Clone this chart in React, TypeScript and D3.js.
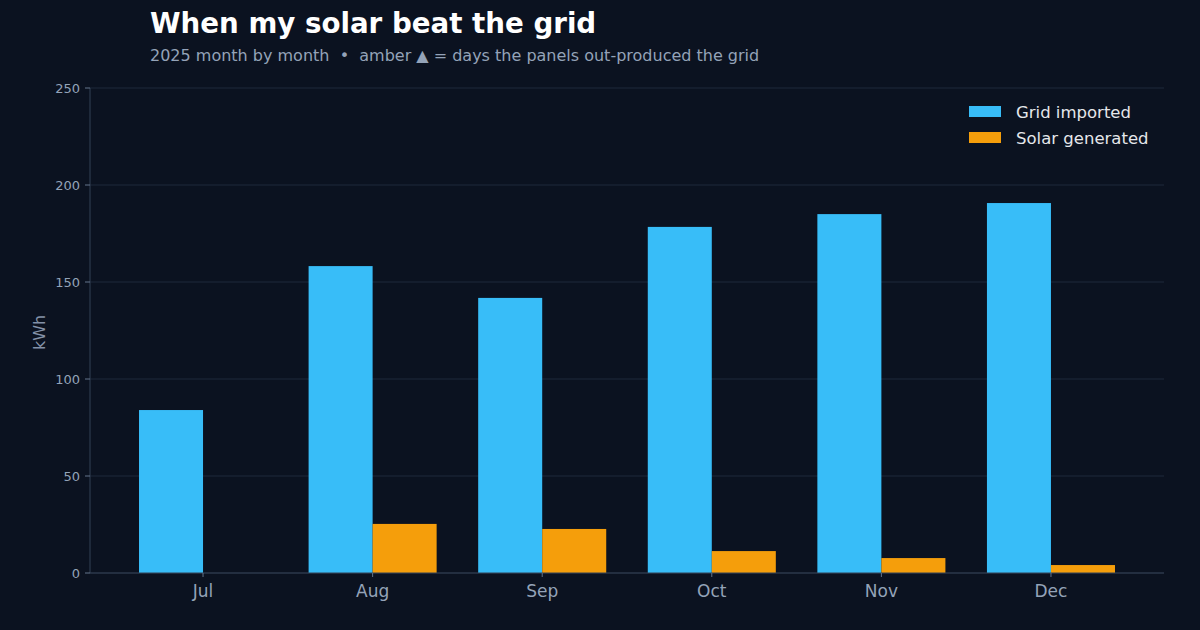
import React from "react"
import * as d3 from "d3"

const months = ["Jul", "Aug", "Sep", "Oct", "Nov", "Dec"]
const gridImported = [84, 158.2, 141.8, 178.4, 185, 190.7]
const solarGenerated = [0, 25.3, 22.7, 11.3, 7.7, 4.1]
const yTicks = [0, 50, 100, 150, 200, 250]

const series = [
  { key: "grid", label: "Grid imported", color: "#38bdf8", values: gridImported },
  { key: "solar", label: "Solar generated", color: "#f59e0b", values: solarGenerated },
]

const W = 1200
const H = 630
const m = { left: 90, right: 1164, top: 88, bottom: 573 }
const font = "DejaVu Sans, sans-serif"

export default function App() {
  const x = d3
    .scaleBand()
    .domain(months)
    .range([m.left, m.right])
    .paddingInner(0.245)
    .paddingOuter(0.289)
  const xs = d3
    .scaleBand()
    .domain(series.map(s => s.key))
    .range([0, x.bandwidth()])
  const y = d3.scaleLinear().domain([0, 250]).range([m.bottom, m.top])

  return (
    <svg
      width={W}
      height={H}
      style={{ position: "absolute", left: 0, top: 0, display: "block" }}
      fontFamily={font}
    >
      <rect width={W} height={H} fill="#0b1220" />

      {/* Title */}
      <text x={150} y={33} fontSize={27.7} fontWeight="bold" fill="#ffffff">
        When my solar beat the grid
      </text>
      <text x={150} y={61} fontSize={16} fill="#94a3b8" style={{ whiteSpace: "pre" }}>
        {"2025 month by month  •  amber ▲ = days the panels out-produced the grid"}
      </text>

      {/* gridlines */}
      {yTicks.map(t => (
        <line
          key={t}
          x1={m.left}
          x2={m.right}
          y1={y(t)}
          y2={y(t)}
          stroke="#1e293b"
          strokeWidth={1}
        />
      ))}

      {/* bars */}
      {months.map((mo, i) => (
        <g key={mo} transform={`translate(${x(mo)},0)`}>
          {series.map(s => (
            <rect
              key={s.key}
              x={xs(s.key)}
              y={y(s.values[i])}
              width={xs.bandwidth()}
              height={y(0) - y(s.values[i])}
              fill={s.color}
            />
          ))}
        </g>
      ))}

      {/* axes */}
      <line x1={m.left} x2={m.left} y1={m.top} y2={m.bottom} stroke="#334155" />
      <line x1={m.left} x2={m.right} y1={m.bottom} y2={m.bottom} stroke="#334155" />
      {yTicks.map(t => (
        <g key={t}>
          <line x1={m.left - 5} x2={m.left} y1={y(t)} y2={y(t)} stroke="#64748b" />
          <text
            x={m.left - 10}
            y={y(t)}
            dy="0.35em"
            textAnchor="end"
            fontSize={13}
            fill="#94a3b8"
          >
            {t}
          </text>
        </g>
      ))}
      {months.map(mo => {
        const cx = x(mo)! + x.bandwidth() / 2
        return (
          <g key={mo}>
            <line x1={cx} x2={cx} y1={m.bottom} y2={m.bottom + 4} stroke="#64748b" />
            <text x={cx} y={597} textAnchor="middle" fontSize={17} fill="#94a3b8">
              {mo}
            </text>
          </g>
        )
      })}
      <text
        transform={`translate(45,${(m.top + m.bottom) / 2 + 2}) rotate(-90)`}
        textAnchor="middle"
        fontSize={16}
        fill="#8391a7"
      >
        kWh
      </text>

      {/* legend */}
      {series.map((s, i) => (
        <g key={s.key} transform={`translate(969,${106 + i * 26})`}>
          <rect width={32} height={11} fill={s.color} />
          <text x={47} y={11.5} fontSize={16.5} fill="#e5e7eb">
            {s.label}
          </text>
        </g>
      ))}
    </svg>
  )
}
